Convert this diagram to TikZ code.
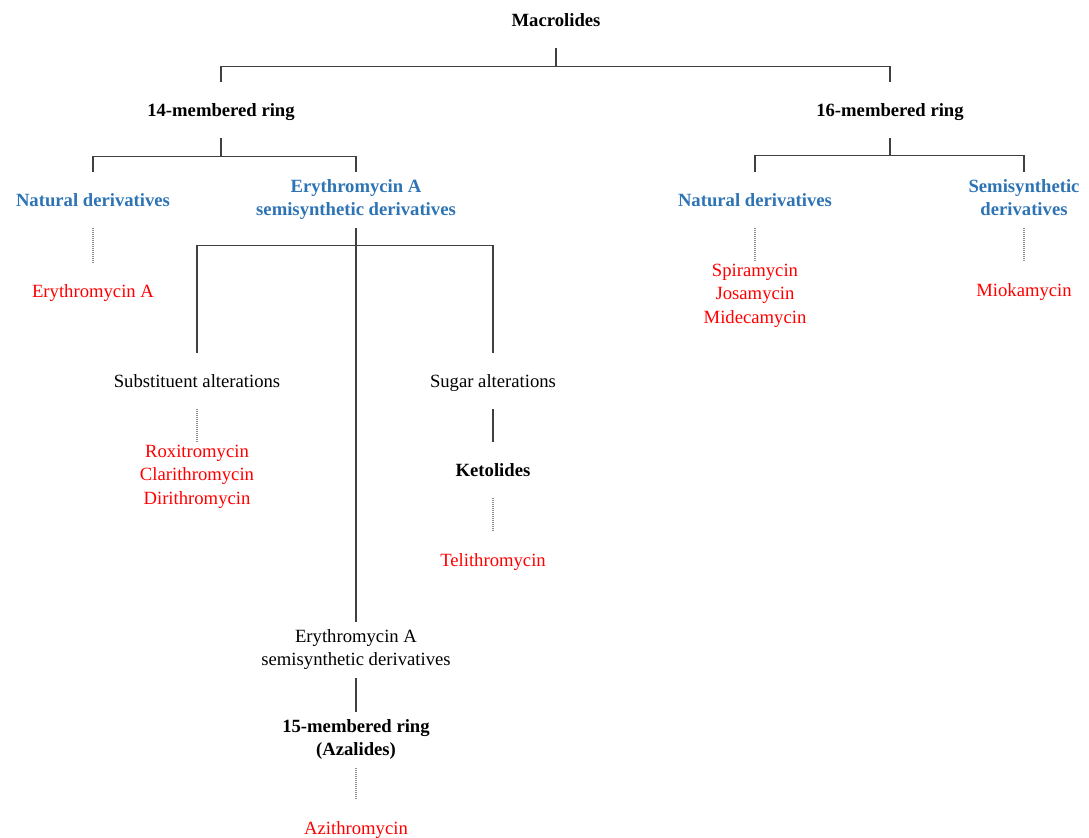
\documentclass[tikz,border=0pt]{standalone}
\usepackage{fontspec}
\setmainfont{Liberation Serif}
\definecolor{headblue}{RGB}{46,116,181}
\definecolor{drugred}{RGB}{255,0,0}
\newcommand\nodestrut{\rule[-3.75pt]{0pt}{17.5pt}}
\tikzset{
  box/.style={inner sep=0pt,minimum height=42pt,align=center,
    execute at begin node=\nodestrut,execute at end node=\nodestrut,
    font=\fontsize{14}{17.5}\selectfont},
  head/.style={box,font=\fontsize{14}{17.5}\selectfont\bfseries},
  sub/.style={head,text=headblue},
  drug/.style={box,inner ysep=2pt,text=drugred},
  link/.style={draw=black!75,line width=0.8pt},
  dots/.style={draw=black!45,line width=0.8pt,dash pattern=on 0.75pt off 0.75pt},
}
\begin{document}
\begin{tikzpicture}[x=0.75pt,y=-0.75pt]
\useasboundingbox (0,0) rectangle (1089,838);
%%
  % Node: Macrolides
  \node[head] (mac) at (556,20) {Macrolides};
  % Node: 14-membered, 16-membered
  \node[head] (r14) at (221,110) {14-membered ring};
  \node[head] (r16) at (890,110) {16-membered ring};
  % Node: 14 natural / semisynthetic
  \node[sub] (nat14) at (93,200) {Natural derivatives};
  \node[sub] (ery) at (356,200) {Erythromycin A\\semisynthetic derivatives};
  \node[drug] (eryA) at (93,291) {Erythromycin A};
  % Node: alterations
  \node[box] (subst) at (197,381) {Substituent alterations};
  \node[box] (sugar) at (493,381) {Sugar alterations};
  \node[drug] (rox) at (197,477) {Roxitromycin\\Clarithromycin\\Dirithromycin};
  \node[head] (keto) at (493,470) {Ketolides};
  \node[drug] (teli) at (493,560) {Telithromycin};
  % Node: azalides
  \node[box] (ery2) at (356,650) {Erythromycin A\\semisynthetic derivatives};
  \node[head] (r15) at (356,740) {15-membered ring\\(Azalides)};
  \node[drug] (azi) at (356,828) {Azithromycin};
  % Node: 16 natural / semisynthetic
  \node[sub] (nat16) at (755,200) {Natural derivatives};
  \node[sub] (semi16) at (1024,200) {Semisynthetic\\derivatives};
  \node[drug] (spira) at (755,296) {Spiramycin\\Josamycin\\Midecamycin};
  \node[drug] (mioka) at (1024,290) {Miokamycin};
%
  % Edge: Macrolides -> rings
  \draw[link] (mac.south) -- ++(0,18) -| (r14.north);
  \draw[link] (mac.south) -- ++(0,18) -| (r16.north);
  % Edge: 14-membered -> derivatives
  \draw[link] (r14.south) -- ++(0,18) -| (nat14.north);
  \draw[link] (r14.south) -- ++(0,18) -| (ery.north);
  \draw[dots] (nat14.south) -- (eryA.north);
  % Edge: Erythromycin A semisynthetic -> alterations
  \draw[link] (ery.south) -- ++(0,17) -| (subst.north);
  \draw[link] (ery.south) -- ++(0,17) -| (sugar.north);
  \draw[link] (ery.south) -- (ery2.north);
  \draw[dots] (subst.south) -- (rox.north);
  \draw[link] (sugar.south) -- (keto.north);
  \draw[dots] (keto.south) -- (teli.north);
  % Edge: azalides
  \draw[link] (ery2.south) -- (r15.north);
  \draw[dots] (r15.south) -- (azi.north);
  % Edge: 16-membered -> derivatives
  \draw[link] (r16.south) -- ++(0,17) -| (nat16.north);
  \draw[link] (r16.south) -- ++(0,17) -| (semi16.north);
  \draw[dots] (nat16.south) -- (spira.north);
  \draw[dots] (semi16.south) -- (mioka.north);
%
\end{tikzpicture}
\end{document}
